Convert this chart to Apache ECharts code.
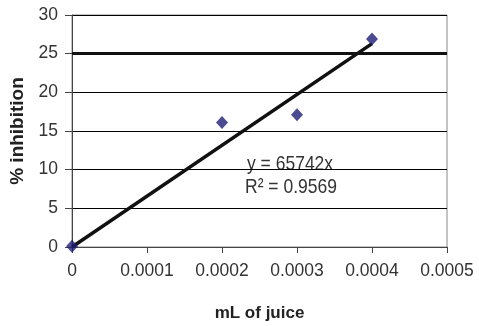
<!DOCTYPE html>
<html>
<head>
<meta charset="utf-8">
<script src="https://cdn.jsdelivr.net/npm/echarts@6/dist/echarts.min.js"></script>
<style>html,body{margin:0;padding:0;background:#fff}#c{width:479px;height:326px}</style>
</head>
<body>
<div id="c"></div>
<script>
const xValues = [0, 0.0002, 0.0003, 0.0004];
const yValues = [0.1, 16.1, 17.1, 26.9];
const trendSlope = [65742];
const trendRange = [0, 0.0004];
const xTicks = ['0', '0.0001', '0.0002', '0.0003', '0.0004', '0.0005'];
const yTicks = ['0', '5', '10', '15', '20', '25', '30'];
const eqText = ['y = 65742x', 'R² = 0.9569'];

const chart = echarts.init(document.getElementById('c'));
const pts = xValues.map((x, i) => [x, yValues[i]]);
const trend = trendRange.map(x => [x, trendSlope[0] * x]);
const font = '"Liberation Sans", Arial, sans-serif';
chart.setOption({
  animation: false,
  grid: { left: 72, right: 32, top: 15, bottom: 79, show: true, borderColor: '#888', borderWidth: 1,
          containLabel: false, outerBoundsMode: 'none' },
  xAxis: {
    type: 'value', min: 0, max: 0.0005, interval: 0.0001,
    name: 'mL of juice', nameLocation: 'middle', nameGap: 58,
    nameTextStyle: { fontFamily: font, fontWeight: 'bold', fontSize: 17, color: '#222' },
    axisLine: { show: true, onZero: false, lineStyle: { color: '#444', width: 1 } },
    axisTick: { show: true, inside: false, length: 6, lineStyle: { color: '#444' } },
    axisLabel: { fontFamily: font, fontSize: 17.5, color: '#333', margin: 15,
      formatter: (v) => xTicks[Math.round(v / 0.0001)] },
    splitLine: { show: false }
  },
  yAxis: {
    type: 'value', min: 0, max: 30, interval: 5,
    name: '% inhibition', nameLocation: 'middle', nameGap: 40,
    nameTextStyle: { fontFamily: font, fontWeight: 'bold', fontSize: 19, color: '#222' },
    axisLine: { show: true, lineStyle: { color: '#444', width: 1 } },
    axisTick: { show: true, inside: false, length: 7, lineStyle: { color: '#444' } },
    axisLabel: { fontFamily: font, fontSize: 17.5, color: '#333', margin: 14,
      formatter: (v) => yTicks[Math.round(v / 5)] },
    splitLine: { show: true, lineStyle: { color: '#000', width: 1 } }
  },
  series: [
    {
      type: 'line', data: trend, symbol: 'none', silent: true,
      lineStyle: { color: '#111', width: 3.5 }, z: 2,
      markLine: {
        silent: true, symbol: 'none', label: { show: false },
        lineStyle: { color: '#111', width: 3, type: 'solid' },
        data: [{ yAxis: 25 }]
      }
    },
    {
      type: 'scatter', data: pts, symbol: 'diamond', symbolSize: [12, 13],
      itemStyle: { color: '#1e1e76' }, z: 3
    }
  ],
  graphic: [
    { type: 'text', x: 247, y: 153, scaleY: 1.2, style: { text: eqText[0], fontFamily: font, fontSize: 17.5, fill: '#333' } },
    { type: 'text', x: 245, y: 176, scaleY: 1.2, style: { text: eqText[1], fontFamily: font, fontSize: 17.5, fill: '#333' } }
  ]
});
</script>
</body>
</html>
